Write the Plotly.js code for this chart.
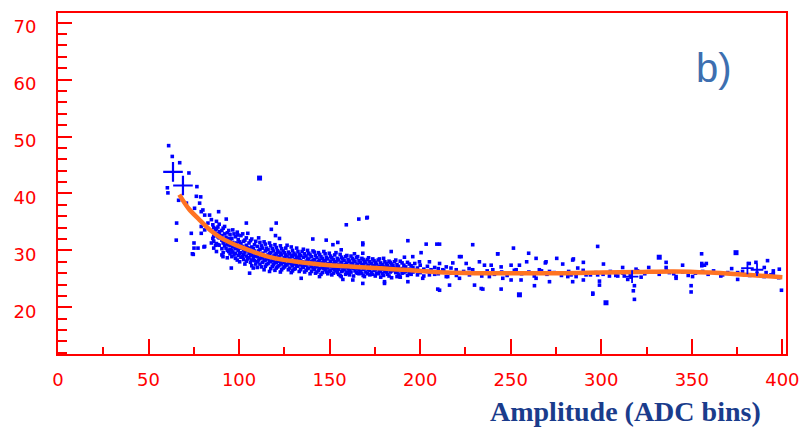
<!DOCTYPE html>
<html><head><meta charset="utf-8">
<script src="https://cdn.plot.ly/plotly-3.0.1.min.js"></script>
<style>html,body{margin:0;padding:0;background:#fff}#chart{width:803px;height:429px}</style>
</head><body><div id="chart"></div>
<script>
// Fit curve
const fitX = [67, 72, 78, 85, 90, 95, 100, 105, 110, 115, 120, 130, 140, 150, 160, 170, 180, 190, 200, 215, 230, 250, 280, 300, 320, 340, 360, 380, 400];
const fitY = [39.8, 37.4, 35.4, 33.3, 32.2, 31.4, 30.7, 30.1, 29.5, 29.0, 28.6, 28.1, 27.7, 27.4, 27.2, 27.0, 26.8, 26.6, 26.4, 26.1, 26.0, 26.0, 26.0, 26.1, 26.2, 26.3, 26.1, 25.7, 25.3];

// Profile crosses
const bigCrossX = [63.5, 69.0];
const bigCrossY = [43.8, 41.4];
const smallCrossX = [380.7, 386.0, 317.0];
const smallCrossY = [26.9, 26.6, 25.4];

// Larger single points
const bigDotX = [111.3, 254.8, 374.4, 332.0, 302.6];
const bigDotY = [42.7, 22.2, 29.6, 28.8, 20.8];

// Scatter points [amplitude, value]
const points = [
[61.1,48.4],[63.1,46.5],[67.2,45.4],[72.3,43.6],[60.4,41.0],[60.7,40.1],[76.7,41.2],[66.6,38.8],[76.4,39.5],[78.8,39.4],
[78.2,38.3],[70.9,38.3],[75.4,37.4],[79.1,36.8],[81,36.2],[83.7,36.2],[84.7,35.4],[82.8,34.8],[79.1,34.2],[65.5,34.8],
[73.6,33.0],[79.1,33.0],[85.5,32.1],[65.3,31.8],[75.1,31.3],[77.3,30.4],[80.6,30.6],[75.1,30.4],[74.7,29.3],[84.7,31.3],
[80,37.1],[88.7,36.8],[92.9,35.5],[85.5,34.5],[81,33.6],[89.2,33.3],[94.8,32.1],[99.3,32.7],[104,34.8],[98.5,31.3],
[81,30.7],[74.2,29.4],[91.1,28.9],[95.7,26.9],[105.8,26.0],[120.5,34.8],[117.8,33.7],[120.1,32.6],[122.3,32.1],[140.7,32],
[148.1,31.8],[159.2,34.5],[166.1,35.5],[170.5,35.7],[168.3,31.3],[134.3,25.1],[168.3,24.2],[180.3,24.2],[144.4,25.4],[156.4,25.4],
[86,34.0],[86,33.2],[86,32.5],[86,31.6],[86,30.4],
[87.5,35.1],[87.5,33.8],[87.5,32.9],[87.5,31.2],[87.5,29.8],
[89,34.6],[89,33.0],[89,32.2],[89,30.9],
[90.5,33.5],[90.5,32.6],[90.5,31.8],[90.5,30.3],[90.5,29.2],
[92,34.2],[92,32.9],[92,31.5],[92,30.8],
[93.5,33.1],[93.5,32.0],[93.5,31.1],[93.5,30.0],[93.5,28.7],
[95,32.8],[95,31.7],[95,30.9],[95,30.2],[95,29.4],
[96.5,33.6],[96.5,31.4],[96.5,30.6],[96.5,29.7],
[98,32.4],[98,31.0],[98,30.3],[98,29.5],[98,28.6],
[99.5,31.9],[99.5,30.8],[99.5,30.0],[99.5,29.1],
[101,32.6],[101,31.2],[101,30.4],[101,29.6],[101,28.8],
[102.5,31.6],[102.5,30.1],[102.5,29.3],[102.5,28.4],
[104,32.2],[104,30.9],[104,30.0],[104,29.0],[104,28.1],
[105.5,31.3],[105.5,30.3],[105.5,29.5],[105.5,28.7],
[107,32.0],[107,30.6],[107,29.8],[107,29.2],[107,28.3],[107,27.3],
[108.5,31.0],[108.5,29.9],[108.5,29.0],[108.5,28.2],
[110,30.7],[110,29.6],[110,28.9],[110,28.0],[110,27.0],
[111.5,31.4],[111.5,30.2],[111.5,29.3],[111.5,28.6],[111.5,27.6],
[113,30.4],[113,29.5],[113,28.7],[113,27.9],
[114.5,31.1],[114.5,29.9],[114.5,29.0],[114.5,28.3],[114.5,27.2],
[116,30.1],[116,29.2],[116,28.5],[116,27.7],
[117.5,30.8],[117.5,29.6],[117.5,28.8],[117.5,28.0],[117.5,26.8],
[119,29.9],[119,29.0],[119,28.2],[119,27.5],
[120.5,30.5],[120.5,29.4],[120.5,28.6],[120.5,27.9],[120.5,26.9],
[122,29.7],[122,28.9],[122,28.1],[122,27.3],
[123.5,30.3],[123.5,29.2],[123.5,28.4],[123.5,27.6],[123.5,26.6],
[125,29.6],[125,28.7],[125,27.9],[125,27.1],
[126.5,30.9],[126.5,29.0],[126.5,28.3],[126.5,27.5],
[128,29.4],[128,28.6],[128,27.8],[128,26.9],
[129.5,30.0],[129.5,28.9],[129.5,28.1],[129.5,27.3],[129.5,26.4],
[131,29.2],[131,28.4],[131,27.6],[131,26.8],
[132.5,29.8],[132.5,28.7],[132.5,27.9],[132.5,27.2],
[134,29.1],[134,28.2],[134,27.5],[134,26.6],
[135.5,30.2],[135.5,28.8],[135.5,27.8],[135.5,27.0],
[137,29.0],[137,28.1],[137,27.4],[137,26.5],
[138.5,29.5],[138.5,28.5],[138.5,27.7],[138.5,26.9],
[140,28.9],[140,28.0],[140,27.2],[140,26.3],
[141.5,29.7],[141.5,28.4],[141.5,27.6],[141.5,26.7],
[143,28.7],[143,27.9],[143,27.1],[143,26.2],
[144.5,29.3],[144.5,28.3],[144.5,27.5],[144.5,26.8],
[146,28.6],[146,27.8],[146,27.0],[146,26.1],
[147.5,29.4],[147.5,28.2],[147.5,27.4],[147.5,26.6],
[149,28.5],[149,27.7],[149,26.9],[149,25.9],
[150.5,29.0],[150.5,28.1],[150.5,27.3],[150.5,26.5],
[152,28.4],[152,27.6],[152,26.8],[152,26.0],
[153.5,29.6],[153.5,28.0],[153.5,27.2],[153.5,26.4],
[155,28.3],[155,27.5],[155,26.7],[155,25.8],
[156.5,28.8],[156.5,27.9],[156.5,27.1],[156.5,26.3],
[158,28.2],[158,27.4],[158,26.6],
[159.5,29.1],[159.5,27.8],[159.5,27.0],[159.5,26.2],
[161,28.1],[161,27.3],[161,26.5],[161,25.7],
[162.5,28.6],[162.5,27.7],[162.5,26.9],
[164,28.0],[164,27.2],[164,26.4],
[165.5,28.9],[165.5,27.6],[165.5,26.8],[165.5,26.0],
[167,27.9],[167,27.1],[167,26.3],
[168.5,28.4],[168.5,27.5],[168.5,26.7],[168.5,25.6],
[170,27.8],[170,27.0],[170,26.2],
[171.5,28.7],[171.5,27.4],[171.5,26.6],
[173,27.7],[173,26.9],[173,26.1],
[174.5,28.2],[174.5,27.3],[174.5,26.5],
[176,27.6],[176,26.8],[176,26.0],
[177.5,28.5],[177.5,27.2],[177.5,26.4],
[179,27.5],[179,26.7],[179,25.9],
[180.5,28.0],[180.5,27.1],[180.5,26.3],
[182,27.4],[182,26.6],[182,25.8],
[183.5,27.9],[183.5,27.0],[183.5,26.2],
[185,27.3],[185,26.5],
[186.5,28.3],[186.5,26.9],[186.5,26.1],
[188,27.2],[188,26.4],[188,25.7],
[190,27.8],[190,26.8],[190,26.0],
[192,27.1],[192,26.3],
[194,27.6],[194,26.7],[194,25.9],
[196,27.0],[196,26.2],
[87,30.9],[87,33.6],[88.3,32.4],[88.3,31.0],[88.3,34.1],[91.2,33.9],[91.2,31.3],[91.2,29.6],[92.8,32.3],[92.8,30.4],
[94.3,33.5],[94.3,31.0],[94.3,29.8],[96,32.1],[96,30.0],[96,28.9],[97.2,32.9],[97.2,31.1],[97.2,29.2],[99,33.2],
[99,30.5],[99,28.3],[100.3,31.5],[100.3,29.4],[100.3,28.0],[102,32.9],[102,30.7],[102,28.9],[103.2,31.8],[103.2,29.7],
[103.2,27.6],[104.8,33.0],[104.8,30.5],[104.8,28.5],[106.3,31.7],[106.3,29.2],[106.3,27.9],[107.8,30.3],[107.8,28.7],[107.8,26.9],
[109.2,31.6],[109.2,29.4],[109.2,27.6],[110.8,32.2],[110.8,29.9],[110.8,28.3],[112.3,30.8],[112.3,29.0],[112.3,27.1],[113.8,31.5],
[113.8,28.2],[113.8,26.6],[115.2,30.4],[115.2,28.8],[115.2,27.5],[116.8,31.3],[116.8,29.4],[116.8,28.1],[116.8,26.3],[118.3,30.3],
[118.3,28.5],[118.3,27.2],[119.8,31.0],[119.8,29.2],[119.8,27.8],[119.8,26.5],[121.2,30.0],[121.2,28.4],[121.2,27.1],[122.8,30.8],
[122.8,29.5],[122.8,27.8],[122.8,26.2],[124.3,29.9],[124.3,28.2],[124.3,26.9],[125.8,30.4],[125.8,29.2],[125.8,27.3],[127.2,29.7],
[127.2,28.0],[127.2,26.6],[128.8,30.6],[128.8,29.1],[128.8,27.6],[128.8,26.1],[130.3,29.5],[130.3,27.9],[130.3,26.7],[131.8,30.4],
[131.8,28.8],[131.8,27.4],[133.2,29.3],[133.2,28.5],[133.2,26.3],[134.8,29.8],[134.8,28.0],[134.8,27.1],[136.2,29.4],[136.2,27.5],
[136.2,26.2],[137.8,30.0],[137.8,28.4],[137.8,26.8],[139.2,29.2],[139.2,27.6],[139.2,25.9],[140.8,29.9],[140.8,28.2],[140.8,26.9],
[142.2,29.1],[142.2,27.3],[142.2,26.0],[143.8,29.6],[143.8,28.0],[143.8,26.5],[145.2,28.9],[145.2,27.6],[145.2,25.8],[146.8,29.8],
[146.8,28.1],[146.8,26.8],[148.2,28.8],[148.2,27.2],[148.2,26.2],[149.8,29.5],[149.8,27.6],[149.8,26.3],[151.2,28.7],[151.2,27.1],
[151.2,25.7],[152.8,29.2],[152.8,27.9],[152.8,26.6],[154.2,28.6],[154.2,27.0],[154.2,26.1],[155.8,29.3],[155.8,27.6],[155.8,25.6],
[157.2,28.5],[157.2,27.1],[157.2,26.4],[158.8,28.9],[158.8,27.5],[158.8,25.8],[160.2,28.4],[160.2,26.8],[160.2,26.0],[161.8,29.0],
[161.8,27.5],[161.8,26.2],[163.2,28.3],[163.2,26.9],[163.2,25.5],[164.8,28.7],[164.8,27.4],[164.8,26.1],[166.2,28.2],[166.2,26.6],
[166.2,25.9],[167.8,28.6],[167.8,27.3],[167.8,26.0],[169.2,28.1],[169.2,26.8],[169.2,25.4],[170.8,28.4],[170.8,27.2],[170.8,25.9],
[172.2,28.0],[172.2,26.5],[172.2,25.7],[173.8,28.5],[173.8,27.1],[173.8,25.8],[175.2,27.9],[175.2,26.6],[175.2,25.5],[176.8,28.3],
[176.8,27.0],[176.8,25.9],[178.2,27.8],[178.2,26.3],[178.2,25.3],[179.8,28.6],[179.8,26.9],[179.8,25.6],[181.2,27.7],[181.2,26.2],
[182.8,28.1],[182.8,26.8],[182.8,25.5],[184.2,27.6],[184.2,26.4],[184.2,25.2],[185.8,28.0],[185.8,26.7],[187.2,27.5],[187.2,26.2],
[187.2,25.4],[189,28.1],[189,26.6],[189,25.3],[191,27.4],[191,26.1],[193,27.9],[193,26.5],[193,25.6],[195,27.3],
[195,25.8],[197,27.7],[197,26.5],[198.5,26.9],[198.5,25.7],[200,27.4],[200,26.1],[202,26.7],[202,25.5],[204,27.2],
[204,26.3],[206,26.6],[208,27.0],[208,25.8],
[154.5,31.4],[151.8,31.0],[156.4,30.1],[163.7,29.4],[168.3,29.5],[193.2,31.7],[203.3,31.1],[209.2,31.1],[184,29.8],[191.3,28.8],
[195.9,28.9],[200.5,29.6],[205.1,28.0],[199.6,28.0],[210.7,27.7],[187.6,27.1],[181.2,26.3],[188.6,25.4],[193.2,24.5],[205.1,25.7],
[201.4,25.1],[209.7,23.2],[180.3,24.5],[157.3,24.9],[162.8,24.8],[214.4,27.1],[215.2,25.4],[170.8,35.8],[168.3,31.0],
[210.7,31.1],[229,31.0],[242.8,29.4],[259.9,29.5],[251.5,30.4],[269.1,27.8],[275.4,28.6],[264,28.6],[258.8,28.0],[222.6,28.9],
[218,27.8],[225.4,27.7],[232.7,28.0],[235.5,27.4],[239.2,27.4],[244.7,27.1],[250.2,27.4],[254.8,27.4],[212.5,26.6],[219.9,26.6],
[229,26.6],[240.1,26.6],[253,26.6],[265.8,26.6],[271.4,26.3],[214.4,25.4],[221.7,25.1],[227.2,25.7],[238.2,25.4],[245.6,25.1],
[250.2,24.8],[255.7,24.8],[264,25.1],[271.4,24.5],[281.5,25.4],[216.2,23.9],[230,23.9],[233.7,23.3],[244.7,23.2],[263.1,23.8],
[210.7,23.0],[234.6,23.2],[221.7,28.9],[242.8,29.4],[269.5,28.0],[284.2,28.3],
[298,30.7],[284.6,28.5],[278.7,27.6],[290.1,27.9],[301.2,27.6],[287,26.9],[311.8,27.0],[326.2,27.0],[319.2,26.7],[335.8,27.9],
[335.8,27.0],[280.6,26.0],[283.3,25.7],[286.1,25.4],[291.6,25.7],[298,25.7],[304.5,25.5],[309.1,25.5],[314.6,24.9],[322,25.3],
[337.6,26.1],[341.3,25.4],[284.2,24.5],[290.1,24.8],[299,24.6],[299,23.9],[318.3,23.8],[317.7,22.9],[318.3,21.4],[295.3,22.5],
[312.7,25.5],[316.4,25.3],[295.3,22.3],
[355.4,29.4],[391.8,28.2],[344.9,27.4],[357,27.4],[385.4,27.9],[398.3,26.7],[356,26.3],[363.4,26.0],[367,25.7],[369.8,26.1],
[375.3,26.1],[391,26.1],[393.7,25.7],[341.3,25.1],[350.4,25.4],[375.3,24.9],[349.6,23.8],[349.6,22.7],[399.5,23.0],[381.7,27.7],
[355.5,27.7],[358,27.7],[355.5,27.3],[390,27.0],[395,26.4],[372,26.8],
[210,26.8],[210,25.9],[213,26.4],[217,26.0],[217,26.9],[220,25.6],[224,26.3],[227,26.8],[231,26.0],[234,25.5],
[237,26.4],[241,25.8],[245,26.2],[248,25.6],[252,26.5],[256,25.9],[260,26.2],[263,25.5],[267,26.4],[270,25.8],
[274,26.1],[278,25.6],[282,26.3],[286,25.9],[290,26.5],[294,25.7],[297,26.1],[301,25.8],[305,26.3],[308,25.6],
[312,26.0],[316,25.7],[320,26.4],[324,25.9],[328,26.2],[332,25.8],[336,26.4],[340,25.9],[345,26.2],[348,25.6],
[352,26.0],[359,25.8],[362,26.4],[366,25.5],[372,25.9],[378,26.3],[382,25.6],[386,26.0],[390,25.4],[395,25.9],[398,25.2]
];

const xTickVals = [0, 50, 100, 150, 200, 250, 300, 350, 400];
const yTickVals = [20, 30, 40, 50, 60, 70];
const panelLabel = 'b)';
const xTitle = 'Amplitude (ADC bins)';

const red = '#ff0000';
const blue = '#0000ff';

const traces = [
  {x: points.map(p => p[0]), y: points.map(p => p[1]), type: 'scatter', mode: 'markers',
   marker: {symbol: 'square', size: 3.6, color: blue, line: {width: 0}}, hoverinfo: 'skip'},
  {x: bigDotX, y: bigDotY, type: 'scatter', mode: 'markers',
   marker: {symbol: 'square', size: 5, color: blue, line: {width: 0}}},
  {x: fitX, y: fitY, type: 'scatter', mode: 'lines',
   line: {color: 'rgb(255,115,35)', width: 4.5, shape: 'spline', smoothing: 1}},
  {x: bigCrossX, y: bigCrossY, type: 'scatter', mode: 'markers',
   marker: {symbol: 'cross-thin-open', size: 14, color: blue, line: {width: 2.2, color: blue}}},
  {x: smallCrossX, y: smallCrossY, type: 'scatter', mode: 'markers',
   marker: {symbol: 'cross-thin-open', size: 9, color: blue, line: {width: 1.8, color: blue}}}
];

const tickFont = {family: 'DejaVu Sans, sans-serif', size: 18, color: red};

const layout = {
  width: 803, height: 429,
  margin: {l: 58, r: 17, t: 13, b: 75, pad: 0},
  paper_bgcolor: '#ffffff', plot_bgcolor: '#ffffff',
  showlegend: false,
  xaxis: {
    range: [0, 402], showgrid: false, zeroline: false,
    showline: true, linecolor: red, linewidth: 2, mirror: true,
    tickmode: 'array', tickvals: xTickVals, ticktext: xTickVals.map(String),
    ticks: 'inside', ticklen: 15, tickwidth: 2, tickcolor: red,
    minor: {dtick: 25, tick0: 0, ticks: 'inside', ticklen: 7, tickwidth: 2, tickcolor: red, showgrid: false},
    tickfont: tickFont, ticklabelstandoff: 8
  },
  yaxis: {
    range: [11.8, 71.7], showgrid: false, zeroline: false,
    showline: true, linecolor: red, linewidth: 2, mirror: true,
    tickmode: 'array', tickvals: yTickVals, ticktext: yTickVals.map(String),
    ticks: 'inside', ticklen: 14, tickwidth: 2, tickcolor: red,
    minor: {dtick: 2, tick0: 0, ticks: 'inside', ticklen: 9, tickwidth: 2, tickcolor: red, showgrid: false},
    tickfont: tickFont, ticklabelstandoff: 16, ticklabelshift: 4
  },
  annotations: [
    {text: panelLabel, xref: 'paper', yref: 'paper', x: 0.874, y: 0.84, xanchor: 'left', yanchor: 'middle',
     showarrow: false, font: {family: 'Liberation Sans, Arial, sans-serif', size: 40, color: '#3d6fb0'}},
    {text: '<b>' + xTitle + '</b>', xref: 'paper', yref: 'paper', x: 0.968, y: -0.17, xanchor: 'right', yanchor: 'middle',
     showarrow: false, font: {family: 'Liberation Serif, Times New Roman, serif', size: 28, color: '#1a3c8c'}}
  ]
};

Plotly.newPlot('chart', traces, layout, {staticPlot: true, displayModeBar: false});
</script>
</body></html>
